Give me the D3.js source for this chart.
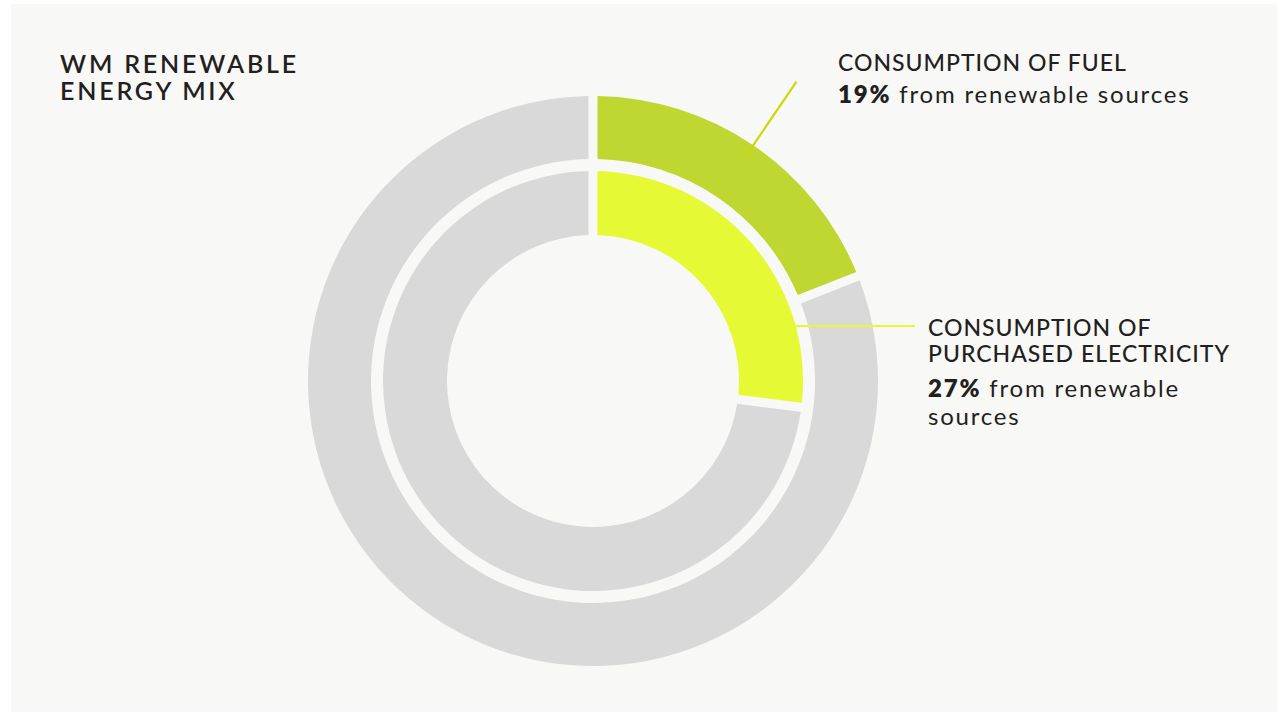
<!DOCTYPE html>
<html>
<head>
<meta charset="utf-8">
<script src="https://cdn.jsdelivr.net/npm/d3@7"></script>
<style>
  html, body { margin: 0; padding: 0; background: #ffffff; }
  svg { display: block; font-family: Lato, "Open Sans", sans-serif; }
</style>
</head>
<body>
<div id="chart"></div>
<script>
// data
var title = ["WM RENEWABLE", "ENERGY MIX"];
var categories = ["Consumption of fuel", "Consumption of purchased electricity"];
var labelLines = [["CONSUMPTION OF FUEL"], ["CONSUMPTION OF", "PURCHASED ELECTRICITY"]];
var renewableShares = [19, 27];
var sourceText = [["from renewable sources"], ["from renewable", "sources"]];

var width = 1277, height = 712;
var cx = 593, cy = 381;
var rings = [
  {inner: 222, outer: 285, color: "#bfd730", line: "#c8da0a"},
  {inner: 146, outer: 210, color: "#e6f935", line: "#e6f935"}
];
var grey = "#d9d9d9";

var svg = d3.select("#chart").append("svg")
  .attr("width", width)
  .attr("height", height);

svg.append("rect")
  .attr("x", 11).attr("y", 4)
  .attr("width", width - 11).attr("height", height - 4)
  .attr("fill", "#f8f8f6");

var g = svg.append("g").attr("transform", "translate(" + cx + "," + cy + ")");

// no pie padding, the gap is done by the arc so shares keep their true angle
var pie = d3.pie().sort(null).value(function(d) { return d; });

var arcsDrawn = [];
renewableShares.forEach(function(share, i) {
  var ring = rings[i];
  var arc = d3.arc()
    .innerRadius(ring.inner)
    .outerRadius(ring.outer)
    .padAngle(0.09)
    .padRadius(100);
  var slices = pie([share, 100 - share]);
  g.selectAll(".ring" + i)
    .data(slices)
    .enter().append("path")
    .attr("class", "ring" + i)
    .attr("d", arc)
    .attr("fill", function(d, j) { return j === 0 ? ring.color : grey; });
  arcsDrawn.push(slices[0]);
});

// leader for fuel: radial from the middle of the slice
var a0 = (arcsDrawn[0].startAngle + arcsDrawn[0].endAngle) / 2;
g.append("line")
  .attr("x1", Math.sin(a0) * 270).attr("y1", -Math.cos(a0) * 270)
  .attr("x2", Math.sin(a0) * 362).attr("y2", -Math.cos(a0) * 362)
  .attr("stroke", rings[0].line)
  .attr("stroke-width", 2.2);

// leader for electricity: horizontal
var ly = -55;
var lx = Math.sqrt(204 * 204 - ly * ly);
g.append("line")
  .attr("x1", lx).attr("y1", ly)
  .attr("x2", 322).attr("y2", ly)
  .attr("stroke", rings[1].line)
  .attr("stroke-width", 2.2);

var ink = "#231f20";

// title
svg.append("text")
  .attr("x", 60).attr("y", 73)
  .attr("fill", ink)
  .attr("font-size", 25)
  .attr("font-weight", 600)
  .attr("letter-spacing", 2.8)
  .selectAll("tspan").data(title).enter().append("tspan")
  .attr("x", 60)
  .attr("dy", function(d, i) { return i ? 27 : 0; })
  .text(function(d) { return d; });

// labels
var labelPos = [
  {x: 838, heads: [71], sub: [103]},
  {x: 928, heads: [336, 362], sub: [397, 425]}
];

labelPos.forEach(function(p, i) {
  var lg = svg.append("g");
  labelLines[i].forEach(function(t, k) {
    lg.append("text")
      .attr("x", p.x).attr("y", p.heads[k])
      .attr("fill", ink)
      .attr("font-size", 23)
      .attr("font-weight", 500)
      .attr("letter-spacing", 1.0)
      .text(t);
  });
  sourceText[i].forEach(function(t, k) {
    var tx = lg.append("text")
      .attr("x", p.x).attr("y", p.sub[k])
      .attr("fill", ink)
      .attr("font-size", 24)
      .attr("letter-spacing", 1.8);
    if (k === 0) {
      tx.append("tspan").attr("font-weight", 800).text(renewableShares[i] + "%");
      tx.append("tspan").text(" " + t);
    } else {
      tx.text(t);
    }
  });
});
</script>
</body>
</html>
